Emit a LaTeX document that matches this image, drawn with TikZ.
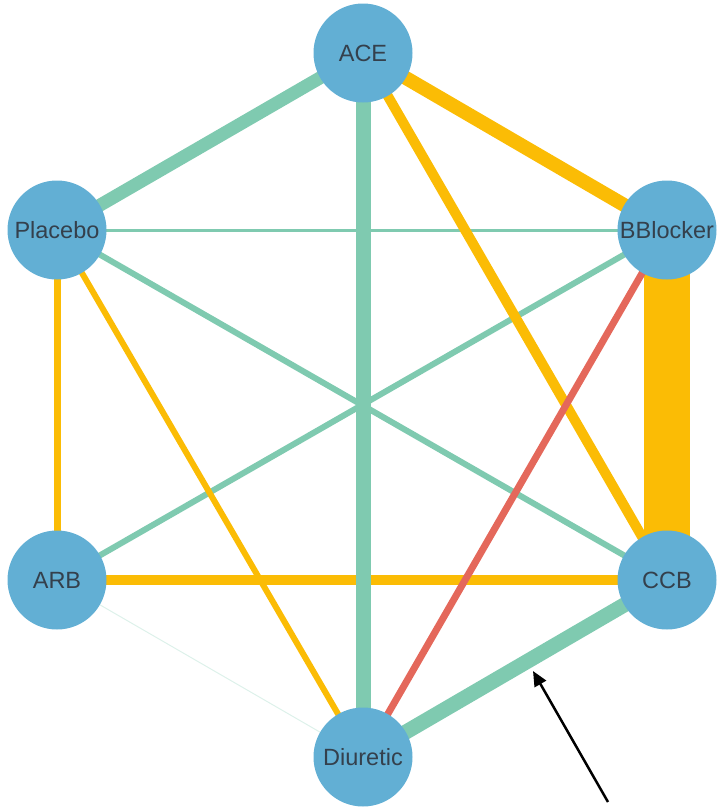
\documentclass[tikz,border=0pt]{standalone}
\usepackage{fontspec}
\setmainfont{Liberation Sans}
\usetikzlibrary{arrows.meta}
\definecolor{nodeblue}{HTML}{62AFD4}
\definecolor{txtgrey}{HTML}{34404C}
\definecolor{egreen}{HTML}{7FCAB0}
\definecolor{eyellow}{HTML}{FBBC05}
\definecolor{ered}{HTML}{E4685B}
\definecolor{efaint}{HTML}{DDF1EA}
\tikzset{
  drug/.style={circle, fill=nodeblue, draw=none, minimum size=99pt, inner sep=0pt,
    text=txtgrey, font=\fontsize{23.5}{26}\selectfont},
  ge/.style={draw=egreen, line width=#1},
  ye/.style={draw=eyellow, line width=#1},
  re/.style={draw=ered, line width=#1},
  pointer/.style={draw=black, line width=2.5pt, -{Triangle[length=15pt,width=13pt]}}
}
\begin{document}
\begin{tikzpicture}[x=1pt,y=-1pt]
\useasboundingbox (0,0) rectangle (716,809);
% node positions
\coordinate (pACE) at (363,53);
\coordinate (pPla) at (57,230);
\coordinate (pBB) at (667,230);
\coordinate (pARB) at (57,580);
\coordinate (pCCB) at (667,580);
\coordinate (pDiu) at (363,757);
% edges
\draw[ge=1pt, draw=efaint] (pARB) -- (pDiu);
\draw[ge=3pt] (pPla) -- (pBB);
\draw[ge=6pt] (pPla) -- (pCCB);
\draw[ge=6pt] (pBB) -- (pARB);
\draw[ye=7pt] (pPla) -- (pARB);
\draw[ye=6pt] (pPla) -- (pDiu);
\draw[ye=10pt] (pARB) -- (pCCB);
\draw[ye=10pt] (pACE) -- (pCCB);
\draw[ye=14pt] (pACE) -- (pBB);
\draw[ye=46pt] (pBB) -- (pCCB);
\draw[re=7pt] (pBB) -- (pDiu);
\draw[ge=13pt] (pACE) -- (pPla);
\draw[ge=15pt] (pACE) -- (pDiu);
\draw[ge=15pt] (pCCB) -- (pDiu);
% nodes
\node[drug] (ACE) at (pACE) {ACE};
\node[drug] (Placebo) at (pPla) {Placebo};
\node[drug] (BBlocker) at (pBB) {BBlocker};
\node[drug] (ARB) at (pARB) {ARB};
\node[drug] (CCB) at (pCCB) {CCB};
\node[drug] (Diuretic) at (pDiu) {Diuretic};
% annotation arrow
\coordinate (tail) at (608,802);
\coordinate (tip) at (533,671);
\draw[pointer] (tail) -- (tip);
\end{tikzpicture}
\end{document}
